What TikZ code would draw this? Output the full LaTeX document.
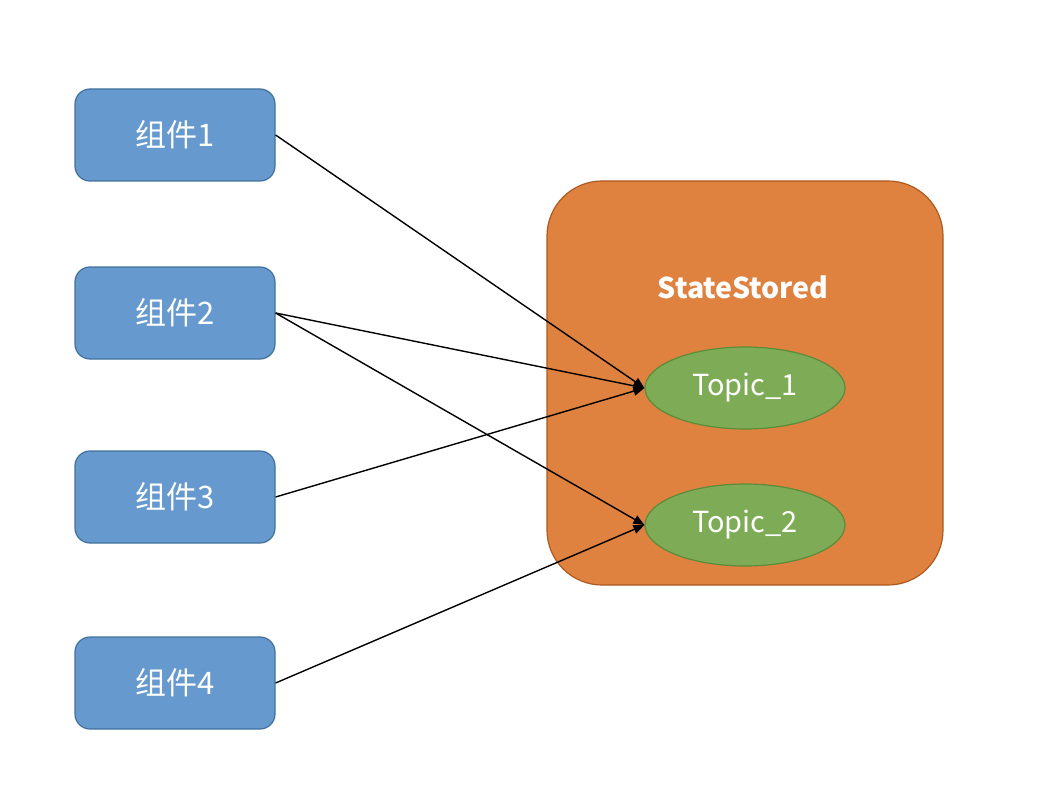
\documentclass[tikz,border=0pt]{standalone}
\usepackage{fontspec}
\setmainfont{Noto Sans CJK SC}
\usepackage{tikz}
\usetikzlibrary{positioning,shapes.geometric,arrows.meta}

\definecolor{compfill}{HTML}{6699CE}
\definecolor{compdraw}{HTML}{41719C}
\definecolor{storefill}{HTML}{E0823F}
\definecolor{storedraw}{HTML}{AE5A21}
\definecolor{topicfill}{HTML}{7EAB55}
\definecolor{topicdraw}{HTML}{5B8C3A}

\begin{document}
\begin{tikzpicture}[
    x=1pt, y=-1pt,
    comp/.style={rectangle, rounded corners=15pt, minimum width=200pt, minimum height=92pt,
      line width=1.2pt, draw=compdraw, fill=compfill, text=white,
      font=\fontsize{31}{34}\selectfont},
    store/.style={rectangle, rounded corners=55pt, minimum width=396pt, minimum height=404pt,
      line width=1.2pt, draw=storedraw, fill=storefill},
    topic/.style={ellipse, minimum width=200pt, minimum height=82pt, inner sep=0pt,
      line width=1.2pt, draw=topicdraw, fill=topicfill, text=white,
      font=\fontsize{29}{32}\selectfont},
    title/.style={text=white, font=\fontsize{28.5}{32}\selectfont\bfseries},
    input/.style={-{Triangle[length=11pt,width=9pt]}, line width=1.4pt, black},
  ]

  \useasboundingbox (0,0) rectangle (1048,802);

  % components
  \node (comp1) [comp] at (175,135) {组件1};
  \node (comp2) [comp] at (175,313) {组件2};
  \node (comp3) [comp] at (175,497) {组件3};
  \node (comp4) [comp] at (175,683) {组件4};

  % state store
  \node (store) [store] at (745,383) {};
  \node (storename) [title] at (743,287) {StateStored};
  \node (topic1) [topic] at (745,388) {Topic\_1};
  \node (topic2) [topic] at (745,525) {Topic\_2};

  % flow
  \draw[input] (comp1.east) -- (topic1.west);
  \draw[input] (comp2.east) -- (topic1.west);
  \draw[input] (comp2.east) -- (topic2.west);
  \draw[input] (comp3.east) -- (topic1.west);
  \draw[input] (comp4.east) -- (topic2.west);

\end{tikzpicture}
\end{document}
